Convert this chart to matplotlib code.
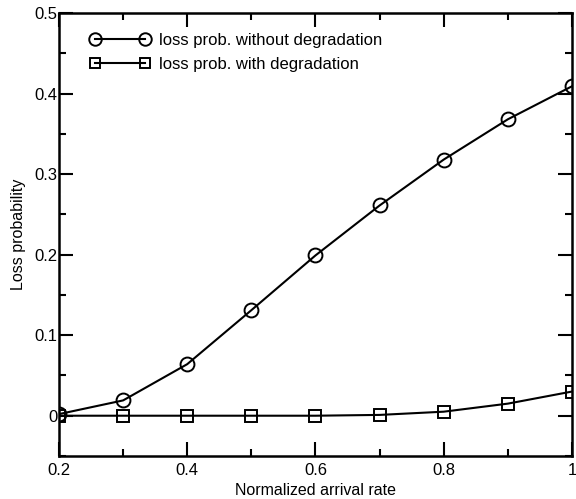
import matplotlib
matplotlib.use("Agg")
import matplotlib.pyplot as plt
from matplotlib.ticker import MultipleLocator

plt.rcParams["font.family"] = ["Liberation Sans", "DejaVu Sans"]

rate = [0.2, 0.3, 0.4, 0.5, 0.6, 0.7, 0.8, 0.9, 1.0]
loss_without = [0.002, 0.019, 0.064, 0.131, 0.199, 0.261, 0.318, 0.368, 0.409]
loss_with = [0.0, 0.0, 0.0, 0.0, 0.0, 0.001, 0.005, 0.015, 0.030]

fig = plt.figure(figsize=(5.76, 4.99), dpi=100)
ax = fig.add_axes([0.1024, 0.0862, 0.8906, 0.8878])

ax.plot(rate, loss_without, "k-", marker="o", ms=10, mfc="none", mew=1.4, lw=1.5,
        label="loss prob. without degradation")
ax.plot(rate, loss_with, "k-", marker="s", ms=8, mfc="none", mew=1.4, lw=1.5,
        label="loss prob. with degradation")

ax.set_xlim(0.2, 1.0)
ax.set_ylim(-0.05, 0.5)
ax.set_xticks([0.2, 0.4, 0.6, 0.8, 1.0])
ax.set_xticklabels(["0.2", "0.4", "0.6", "0.8", "1"])
ax.set_yticks([0, 0.1, 0.2, 0.3, 0.4, 0.5])
ax.set_yticklabels(["0", "0.1", "0.2", "0.3", "0.4", "0.5"])
ax.xaxis.set_minor_locator(MultipleLocator(0.1))
ax.yaxis.set_minor_locator(MultipleLocator(0.05))
ax.tick_params(which="both", direction="in", top=True, right=True, width=1.5,
               labelsize=12)
ax.tick_params(axis="x", pad=5)
ax.tick_params(axis="y", pad=1)
ax.tick_params(which="major", length=10)
ax.tick_params(which="minor", length=5)
for s in ax.spines.values():
    s.set_linewidth(1.8)

ax.set_xlabel("Normalized arrival rate", fontsize=11.5, labelpad=4)
ax.set_ylabel("Loss probability", fontsize=11.5, labelpad=6)

ax.legend(loc="upper left", frameon=False, fontsize=12, numpoints=2,
          markerscale=0.9, handlelength=3.6, handletextpad=0.5,
          labelspacing=0.55, borderaxespad=0.8, bbox_to_anchor=(0.022, 1.0))

fig.savefig("out.png", dpi=100)
